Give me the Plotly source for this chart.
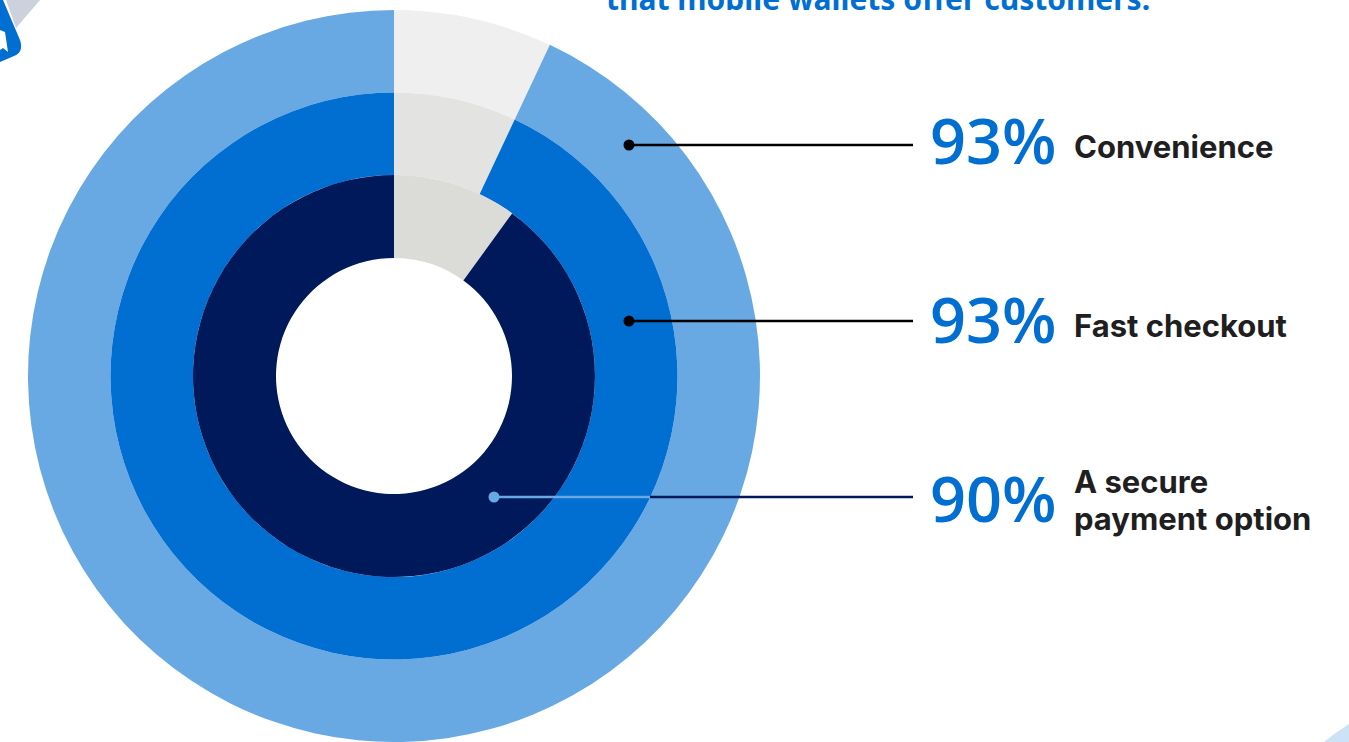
import plotly.graph_objects as go

# Survey results, outermost ring first
categories = ["Convenience", "Fast checkout", "A secure<br>payment option"]
shares = [93, 93, 90]
ring_colors = ["#68a9e3", "#006fd1", "#00195a"]
rest_colors = ["#efefef", "#e3e3e1", "#dbdcd8"]

W, H = 1349, 742
CX, CY = 394, 376
ring_radii = [366, 283.5, 201]
hole_radii = [283.5, 201, 118]

fig = go.Figure()

# Hidden pixel-scale axes carry the leader lines and texts
fig.add_trace(go.Scatter(x=[0, W], y=[0, H], mode="markers", marker=dict(opacity=0),
                         hoverinfo="skip", showlegend=False))

for share, rest_c, ring_c, r, hole in zip(shares, rest_colors, ring_colors, ring_radii, hole_radii):
    fig.add_trace(go.Pie(
        values=[100 - share, share],
        sort=False,
        direction="clockwise",
        rotation=0,
        hole=hole / r,
        marker=dict(colors=[rest_c, ring_c], line=dict(width=0)),
        textinfo="none",
        hoverinfo="skip",
        showlegend=False,
        domain=dict(
            x=[(CX - r) / W, (CX + r) / W],
            y=[max(0, 1 - (CY + r) / H), min(1, 1 - (CY - r) / H)],
        ),
    ))

shapes = []


def leader(x0, x1, y, color):
    shapes.append(dict(type="line", xref="x", yref="y", x0=x0, x1=x1, y0=y, y1=y,
                       line=dict(color=color, width=2.6), layer="above"))


def dot(x, y, color):
    shapes.append(dict(type="circle", xref="x", yref="y", x0=x - 5.5, x1=x + 5.5, y0=y - 5.5, y1=y + 5.5,
                       fillcolor=color, line=dict(width=0), layer="above"))


leader(629, 913, 145, "#000000")
dot(629, 145, "#000000")
leader(629, 913, 321, "#000000")
dot(629, 321, "#000000")
leader(494, 650, 497, "#68a9e3")
leader(650, 913, 497, "#00195a")
dot(494, 497, "#68a9e3")

# Page decorations: badge corner and pale circles
shapes.append(dict(type="path", xref="x", yref="y", layer="below", line=dict(width=0), fillcolor="#ccd1dd",
                   path="M 6 0 L 40 0 L 16 28 Z"))
shapes.append(dict(type="path", xref="x", yref="y", layer="above", line=dict(width=0), fillcolor="#006fd1",
                   path="M 0 0 L 3 0 L 20 40 Q 24 52 14 56 L 0 62 Z"))
shapes.append(dict(type="path", xref="x", yref="y", layer="above", line=dict(width=0), fillcolor="#ffffff",
                   path="M 0 30 L 5 32 L 8 52 L 3 48 L 0 50 Z"))
shapes.append(dict(type="path", xref="x", yref="y", layer="above", line=dict(width=0), fillcolor="#cce2f6",
                   path="M 1324 742 Q 1336 732 1349 724 L 1349 742 Z"))

annotations = [dict(x=605, y=20, xref="x", yref="y", xanchor="left", yanchor="bottom", showarrow=False,
                    text="<b>that mobile wallets offer customers.</b>",
                    font=dict(family="Noto Sans", size=30, color="#006fd1"), borderpad=0)]

value_y = [139, 318, 497]
label_y = [146, 325, 481]
LINE_STEP = 37
for share, name, vy, ly in zip(shares, categories, value_y, label_y):
    annotations.append(dict(x=1058, y=vy, xref="x", yref="y", xanchor="right", yanchor="middle", showarrow=False,
                            text=f"{share}%", font=dict(family="Open Sans", size=63, weight=600, color="#006fd1")))
    # Each label line is placed on its own so the leading stays tight
    for i, part in enumerate(name.split("<br>")):
        annotations.append(dict(x=1072, y=ly + i * LINE_STEP, xref="x", yref="y", xanchor="left", yanchor="middle",
                                showarrow=False, align="left", text=f"<b>{part}</b>",
                                font=dict(family="Inter", size=31, color="#201e1f")))

fig.update_layout(
    width=W, height=H,
    margin=dict(l=0, r=0, t=0, b=0),
    paper_bgcolor="#ffffff", plot_bgcolor="#ffffff",
    xaxis=dict(range=[0, W], visible=False, fixedrange=True),
    yaxis=dict(range=[H, 0], visible=False, fixedrange=True),
    shapes=shapes,
    annotations=annotations,
    showlegend=False,
)

fig.write_html("out.html", config=dict(displayModeBar=False))
